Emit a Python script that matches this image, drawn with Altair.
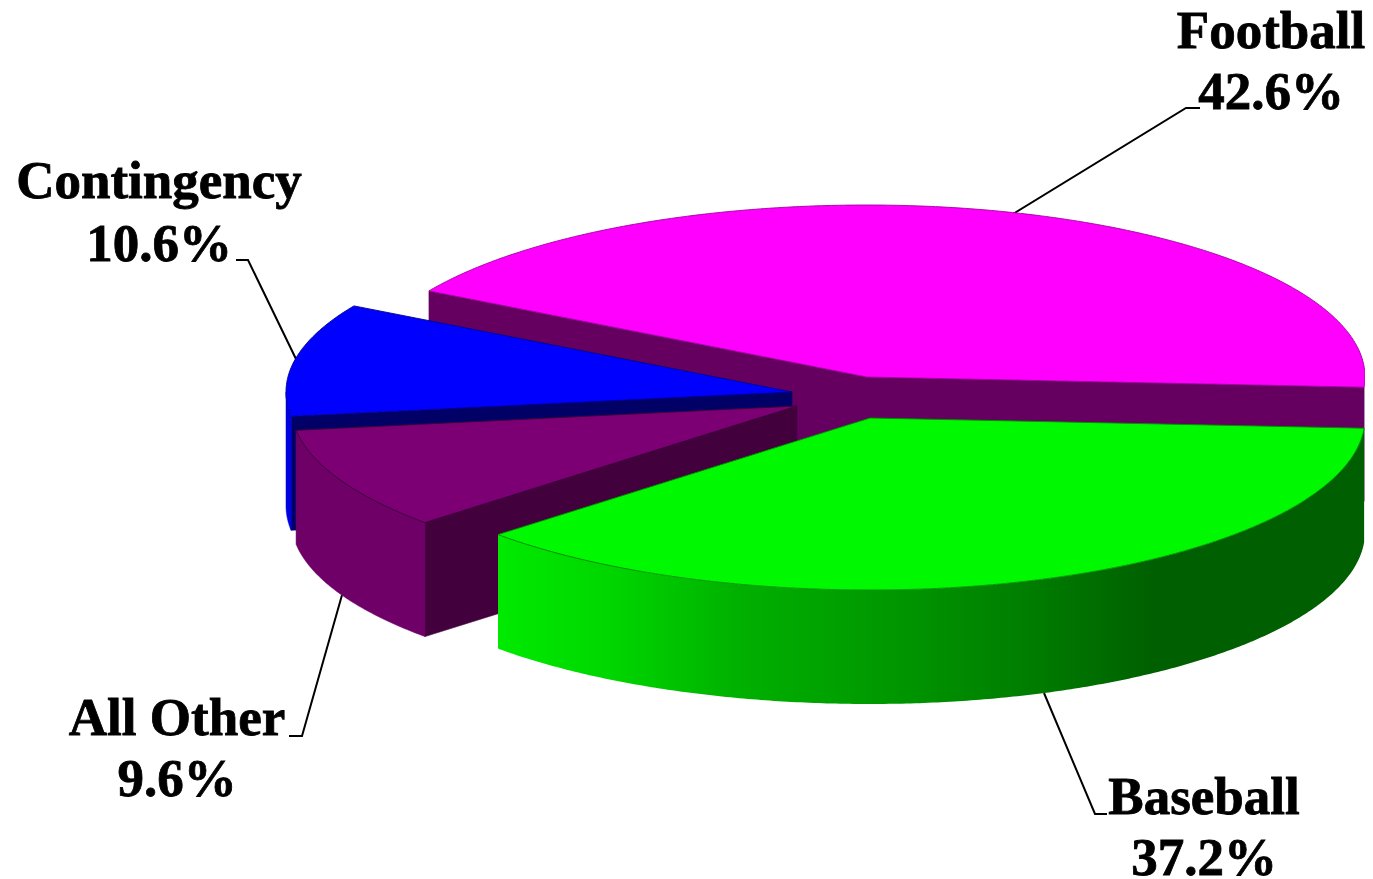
import numpy as np
import pandas as pd
import altair as alt

# Slices in drawing order around the pie, counter-clockwise from the start angle
categories = ["Football", "Contingency", "All Other", "Baseball"]
shares = [42.6, 10.6, 9.6, 37.2]
centre_x = [867, 792, 797, 870]
centre_y = [377, 392, 406, 418]
radius_left = [506, 506, 506, 506]
radius_right = [498, 506, 506, 495]
top_colors = ["#ff00ff", "#0000ff", "#7c0074", "#00f900"]
edge_colors = ["#a000a0", "#000090", "#3c0038", "#009000"]
wall_colors = ["#660060", "#0000e4", "#6e0068", "#00c000"]
start_cut_colors = ["#660060", None, None, None]
end_cut_colors = ["#660060", "#000066", "#42003c", None]

label_x = [1271, 159, 177, 1204]
name_y = [48, 198, 735, 814]
value_y = [109, 261, 796, 875]

leader_x = [[1013, 1186, 1200], [296, 248, 236], [342, 302, 289], [1044, 1095, 1107]]
leader_y = [[214, 108, 108], [359, 260, 260], [595, 736, 736], [693, 814, 814]]

start_angle = -3.4
radius_y = 172
depth = 114

X_SCALE = alt.Scale(domain=[8, 1365], nice=False, zero=False)
Y_SCALE = alt.Scale(domain=[879, 8], nice=False, zero=False)


def shape(xs, ys, fill, stroke=None, stroke_width=0.8):
    xs = list(xs) + [xs[0]]
    ys = list(ys) + [ys[0]]
    df = pd.DataFrame({"x": xs, "y": ys, "i": range(len(xs))})
    return alt.Chart(df).mark_line(
        fill=fill,
        stroke=stroke if stroke else (fill if isinstance(fill, str) else "#006000"),
        strokeWidth=stroke_width,
        interpolate="linear",
    ).encode(
        x=alt.X("x:Q", scale=X_SCALE, axis=None),
        y=alt.Y("y:Q", scale=Y_SCALE, axis=None),
        order=alt.Order("i:Q"),
    )


def rim(k, a0, a1, drop=0):
    n = max(int(abs(a1 - a0)) * 2, 2)
    a = np.radians(np.linspace(a0, a1, n))
    c = np.cos(a)
    return (
        centre_x[k] + np.where(c > 0, radius_right[k], radius_left[k]) * c,
        centre_y[k] - radius_y * np.sin(a) + drop,
    )


green_wall = alt.Gradient(
    gradient="linear", x1=0, x2=1, y1=0, y2=0,
    stops=[
        alt.GradientStop(offset=0.0, color="#00ea00"),
        alt.GradientStop(offset=0.12, color="#00d800"),
        alt.GradientStop(offset=0.28, color="#00b000"),
        alt.GradientStop(offset=0.45, color="#009800"),
        alt.GradientStop(offset=0.62, color="#007c00"),
        alt.GradientStop(offset=0.76, color="#005f00"),
        alt.GradientStop(offset=1.0, color="#005f00"),
    ],
)

layers = []

# Leader lines sit underneath the pie
for xs, ys in zip(leader_x, leader_y):
    df = pd.DataFrame({"x": xs, "y": ys, "i": range(len(xs))})
    layers.append(
        alt.Chart(df).mark_line(color="black", strokeWidth=2).encode(
            x=alt.X("x:Q", scale=X_SCALE, axis=None),
            y=alt.Y("y:Q", scale=Y_SCALE, axis=None),
            order=alt.Order("i:Q"),
        )
    )

angle = start_angle
for k, share in enumerate(shares):
    a0, a1 = angle, angle + share * 3.6
    angle = a1
    cx, cy = centre_x[k], centre_y[k]

    # flat faces left by pulling the slice out
    for a, col in ((a0, start_cut_colors[k]), (a1, end_cut_colors[k])):
        if col:
            ex, ey = rim(k, a, a)
            ex, ey = ex[0], ey[0]
            layers.append(
                shape([cx, ex, ex, cx], [cy, ey, ey + depth, cy + depth], col, stroke_width=0.6)
            )

    # outer wall: only the front half of the rim shows
    f0, f1 = max(a0, 180), min(a1, 360)
    if f1 > f0:
        tx, ty = rim(k, f0, f1)
        bx, by = rim(k, f0, f1, depth)
        fill = green_wall if categories[k] == "Baseball" else wall_colors[k]
        layers.append(
            shape(list(tx) + list(bx[::-1]), list(ty) + list(by[::-1]), fill,
                  stroke="transparent" if categories[k] == "Baseball" else None,
                  stroke_width=0.5)
        )

    # top face
    tx, ty = rim(k, a0, a1)
    layers.append(
        shape([cx] + list(tx), [cy] + list(ty), top_colors[k], stroke=edge_colors[k], stroke_width=0.9)
    )

# Two-line labels
label_rows = []
for name, share, x, y0, y1 in zip(categories, shares, label_x, name_y, value_y):
    label_rows.append({"x": x, "y": y0, "t": name})
    label_rows.append({"x": x, "y": y1, "t": f"{share:.1f}%"})

labels = alt.Chart(pd.DataFrame(label_rows)).mark_text(
    font="Liberation Serif", fontWeight="bold", fontSize=53,
    align="center", baseline="alphabetic", color="black",
    stroke="black", strokeWidth=0.8,
).encode(
    x=alt.X("x:Q", scale=X_SCALE, axis=None),
    y=alt.Y("y:Q", scale=Y_SCALE, axis=None),
    text="t:N",
)
layers.append(labels)

chart = alt.layer(*layers).properties(
    width=1357, height=871, padding=0,
    autosize=alt.AutoSizeParams(type="none"), background="white",
).configure_view(stroke=None)

chart.save("out.html", embed_options={"renderer": "svg", "actions": False})
